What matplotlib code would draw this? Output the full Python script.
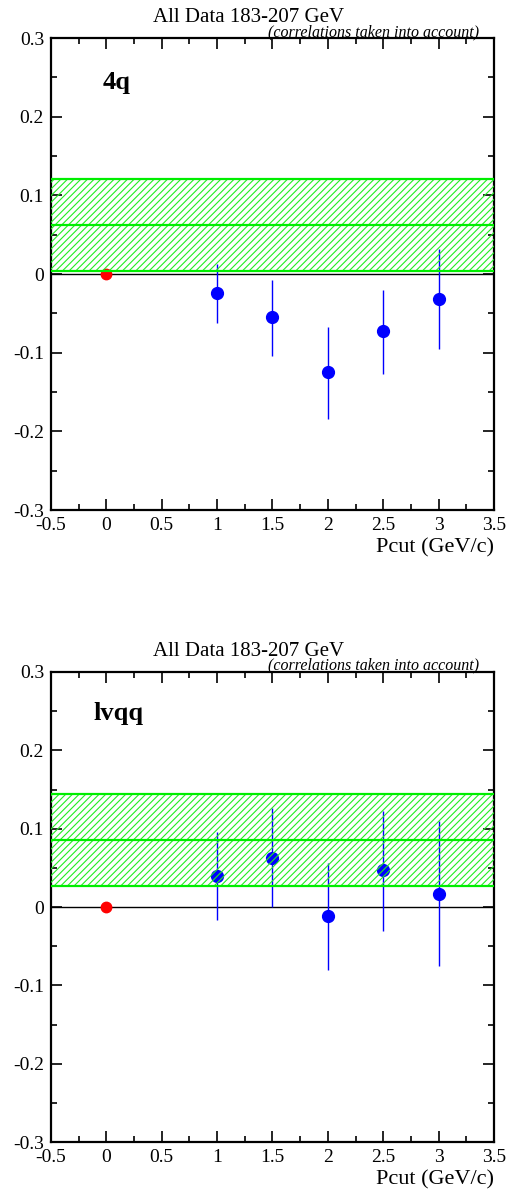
import matplotlib
matplotlib.use('Agg')
import matplotlib.pyplot as plt
from matplotlib.ticker import MultipleLocator

plt.rcParams['font.family'] = ['Liberation Serif', 'DejaVu Serif']
plt.rcParams['hatch.linewidth'] = 0.8
plt.rcParams['hatch.color'] = '#22ee22'

# Pcut values
pcut = [1.0, 1.5, 2.0, 2.5, 3.0]

# 4q channel
val_4q = [-0.024, -0.055, -0.125, -0.073, -0.032]
up_4q = [0.013, -0.008, -0.067, -0.020, 0.032]
lo_4q = [-0.062, -0.104, -0.184, -0.127, -0.095]
band_4q = [0.062, 0.004, 0.121]  # mean, low, high

# lvqq channel
val_lv = [0.040, 0.063, -0.011, 0.047, 0.017]
up_lv = [0.096, 0.126, 0.056, 0.122, 0.110]
lo_lv = [-0.016, 0.000, -0.080, -0.030, -0.075]
band_lv = [0.086, 0.027, 0.144]

ref_x = [0.0]
ref_y = [0.0]

fig = plt.figure(figsize=(5.08, 11.9), dpi=100)
ax1 = fig.add_axes([0.1004, 0.5714, 0.872, 0.3966])
ax2 = fig.add_axes([0.1004, 0.0403, 0.872, 0.3950])


def panel(ax, val, up, lo, band, label):
    ax.set_xlim(-0.5, 3.5)
    ax.set_ylim(-0.3, 0.3)
    ax.axhline(0, color='black', lw=1.0, zorder=1)
    yerr = [[v - l for v, l in zip(val, lo)], [u - v for v, u in zip(val, up)]]
    ax.errorbar(pcut, val, yerr=yerr, fmt='o', color='#0000ff', ms=8.5,
                elinewidth=1.0, capsize=0, zorder=2)
    ax.plot(ref_x, ref_y, 'o', color='#ff0000', ms=7.5, zorder=2)
    ax.fill_between([-0.5, 3.5], band[1], band[2], facecolor='none',
                    edgecolor='#22ee22', hatch='/////', lw=0, zorder=3)
    for yv in band:
        ax.axhline(yv, color='#00ee00', lw=1.6, zorder=4)
    ax.xaxis.set_major_locator(MultipleLocator(0.5))
    ax.xaxis.set_minor_locator(MultipleLocator(0.25))
    ax.yaxis.set_major_locator(MultipleLocator(0.1))
    ax.yaxis.set_minor_locator(MultipleLocator(0.05))
    ax.tick_params(which='both', direction='in', top=True, right=True,
                   labelsize=14, width=1.2)
    ax.tick_params(which='major', length=8, pad=5)
    ax.tick_params(which='minor', length=4)
    ax.set_xticks([-0.5, 0, 0.5, 1, 1.5, 2, 2.5, 3, 3.5])
    ax.set_xticklabels(['-0.5', '0', '0.5', '1', '1.5', '2', '2.5', '3', '3.5'])
    ax.set_yticks([-0.3, -0.2, -0.1, 0, 0.1, 0.2, 0.3])
    ax.set_yticklabels(['-0.3', '-0.2', '-0.1', '0', '0.1', '0.2', '0.3'])
    for s in ax.spines.values():
        s.set_linewidth(1.6)
    ax.text(1.0, -0.081, 'Pcut (GeV/c)', transform=ax.transAxes, ha='right',
            va='center', fontsize=16)
    ax.text(0.447, 1.044, 'All Data 183-207 GeV', transform=ax.transAxes,
            ha='center', va='center', fontsize=15)
    ax.text(0.966, 1.013, '(correlations taken into account)',
            transform=ax.transAxes, ha='right', va='center', fontsize=11.5,
            style='italic')
    ax.text(label[1], label[2], label[0], transform=ax.transAxes, ha='left',
            va='center', fontsize=19, fontweight='bold')


panel(ax1, val_4q, up_4q, lo_4q, band_4q, ('4q', 0.117, 0.905))
panel(ax2, val_lv, up_lv, lo_lv, band_lv, ('lvqq', 0.095, 0.912))

fig.savefig('out.png', dpi=100)
